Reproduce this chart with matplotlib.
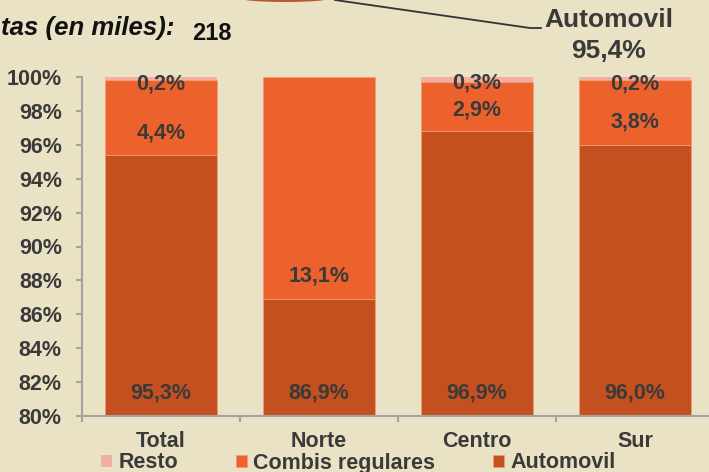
import matplotlib.pyplot as plt
from matplotlib.patches import Ellipse
from matplotlib.lines import Line2D

W, H, DPI = 709, 472, 100

BG = "#E9E2C4"
TXT = "#3A3A3A"
AXIS = "#A3A3A3"
COLORS = {"Automovil": "#C4501F", "Combis regulares": "#EC612C", "Resto": "#F2AEA1"}

zonas = ["Total", "Norte", "Centro", "Sur"]
automovil = [95.3, 86.9, 96.9, 96.0]
combis = [4.4, 13.1, 2.9, 3.8]
resto = [0.2, 0.0, 0.3, 0.2]

total_viajes = 218
pie_automovil = 95.4

# where each value label sits (in % units of the y axis)
combis_label_y = [96.7, 88.26, 98.05, 97.35]
resto_label_y = [99.6, None, 99.65, 99.6]
auto_label_y = 81.35

FS = 15.5


def pct(v):
    return f"{v:.1f}%".replace(".", ",")


plt.rcParams["font.family"] = ["Liberation Sans", "DejaVu Sans"]
plt.rcParams["font.weight"] = "bold"

fig = plt.figure(figsize=(W / DPI, H / DPI), dpi=DPI, facecolor=BG)
ax = fig.add_axes([82 / W, 56 / H, 632 / W, 339 / H])
ax.set_facecolor(BG)

# 100% stacked: each column is scaled to sum to 100
sums = [a + c + r for a, c, r in zip(automovil, combis, resto)]
auto_n = [a / s * 100 for a, s in zip(automovil, sums)]
combis_n = [c / s * 100 for c, s in zip(combis, sums)]
resto_n = [r / s * 100 for r, s in zip(resto, sums)]

x = list(range(len(zonas)))
bw = 0.715
edge = dict(edgecolor="#F09A78", linewidth=0.6)
ax.bar(x, auto_n, bw, color=COLORS["Automovil"], label="Automovil", **edge)
ax.bar(x, combis_n, bw, bottom=auto_n, color=COLORS["Combis regulares"],
       label="Combis regulares", **edge)
base = [a + c for a, c in zip(auto_n, combis_n)]
ax.bar(x, resto_n, bw, bottom=base, color=COLORS["Resto"], label="Resto",
       edgecolor="none")

ax.set_ylim(80, 100)
ax.set_xlim(-0.5, 3.5)
ax.set_yticks(range(80, 101, 2))
ax.set_yticklabels([f"{v}%" for v in range(80, 101, 2)])
ax.set_xticks(x)
ax.set_xticklabels(zonas)
ax.set_xticks([i + 0.5 for i in range(-1, 4)], minor=True)

for s in ("top", "right"):
    ax.spines[s].set_visible(False)
for s in ("left", "bottom"):
    ax.spines[s].set_color(AXIS)
    ax.spines[s].set_linewidth(1.5)

ax.tick_params(axis="y", length=4.5, width=1.5, color=AXIS, pad=10,
               labelsize=FS, labelcolor=TXT)
ax.tick_params(axis="x", which="major", length=0, pad=10.5,
               labelsize=FS, labelcolor=TXT)
ax.tick_params(axis="x", which="minor", length=4.5, width=1.5, color=AXIS)

lab = dict(ha="center", va="center", fontsize=FS, color=TXT, fontweight="bold")
for i in x:
    ax.text(i, auto_label_y, pct(automovil[i]), **lab)
    ax.text(i, combis_label_y[i], pct(combis[i]), **lab)
    if resto[i] > 0:
        ax.text(i, resto_label_y[i], pct(resto[i]), clip_on=False, **lab)

handles, labels = ax.get_legend_handles_labels()
order = [2, 1, 0]
fig.legend([handles[k] for k in order], [labels[k] for k in order],
           loc="center left", bbox_to_anchor=(101 / W, 1 - 463 / H),
           ncol=3, frameon=False, fontsize=FS, labelcolor=TXT,
           handlelength=0.5, handleheight=0.5, handletextpad=0.3,
           columnspacing=2.7, borderpad=0, borderaxespad=0)

# bottom edge of the pie above, with its leader line and label
fig.patches.append(Ellipse((285 / W, 1 + 1.5 / H), 88 / W, 7 / H,
                           transform=fig.transFigure, facecolor="#B45A32",
                           edgecolor="none"))
fig.add_artist(Line2D([335 / W, 530 / W, 541 / W],
                      [1, 1 - 28 / H, 1 - 28 / H],
                      transform=fig.transFigure, color="#333333", lw=1.3))
fig.text(609 / W, 1 - 20 / H, "Automovil", ha="center", va="center",
         fontsize=19, color=TXT)
fig.text(609 / W, 1 - 51 / H, pct(pie_automovil), ha="center", va="center",
         fontsize=19, color=TXT)

fig.text(1 / W, 1 - 35 / H, "tas (en miles):",
         ha="left", va="baseline", fontsize=18.5, style="italic", color="#111111")
fig.text(192 / W, 1 - 40 / H, f"{total_viajes}", ha="left", va="baseline",
         fontsize=17, color="#111111")

fig.savefig("out.png", dpi=DPI, facecolor=BG)
